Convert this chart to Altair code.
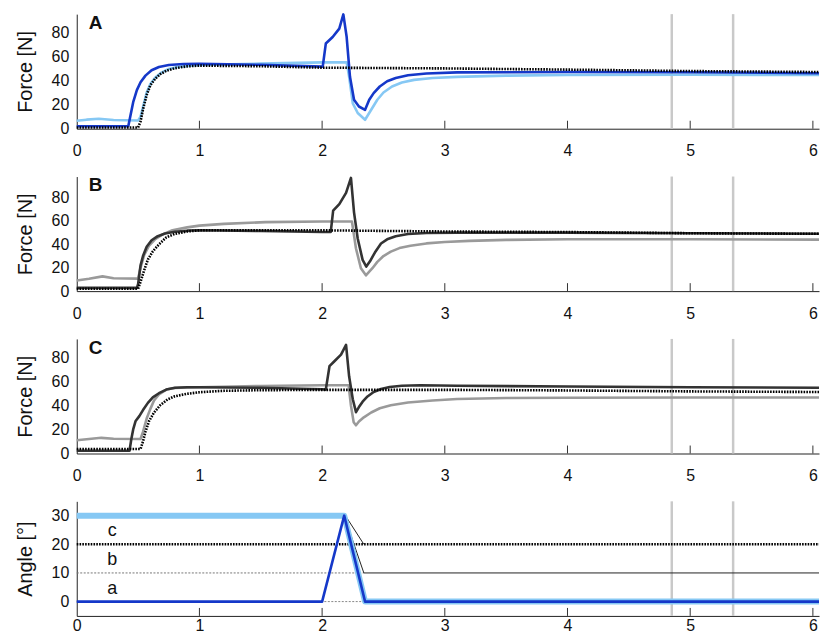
import altair as alt
import pandas as pd

# ---------------- shared axis values ----------------
x_labels = [0, 1, 2, 3, 4, 5, 6]
x_ticks = [1, 2, 3, 4, 5, 6]
x_domain = [0, 6.05]
marker_t = [4.85, 5.35]
force_ticks = [0, 20, 40, 60, 80]
angle_ticks = [0, 10, 20, 30]

# ---------------- panel A ----------------
A_light_t = [0, 0.08, 0.18, 0.3, 0.5, 0.52, 0.54, 0.57, 0.6, 0.64, 0.69, 0.75, 0.83, 0.95, 1.05,
             1.5, 2.0, 2.2, 2.22, 2.25, 2.29, 2.35, 2.4, 2.45, 2.5, 2.57, 2.65, 2.75, 2.9, 3.1,
             3.5, 4.0, 5.0, 6.05]
A_light_v = [6.6, 7.5, 8.3, 7.2, 6.8, 10, 18, 30, 37, 42.5, 46.5, 49.5, 51.3, 52.5, 53,
             54, 55, 55, 43, 21, 13, 7.4, 15.7, 24, 30, 35, 38.3, 40.5, 42, 43,
             44, 44.5, 44.8, 44.5]
A_dark_t = [0, 0.3, 0.42, 0.44, 0.46, 0.49, 0.52, 0.56, 0.61, 0.67, 0.75, 0.87, 1.0, 1.5, 2.0,
            2.005, 2.03, 2.086, 2.14, 2.173, 2.2, 2.227, 2.26, 2.3, 2.35, 2.384, 2.42, 2.47,
            2.53, 2.6, 2.7, 2.85, 3.1, 4.0, 5.0, 6.05]
A_dark_v = [2, 2, 2, 12, 22, 32, 38.5, 44, 48.5, 51.2, 52.8, 53.7, 53.8, 53, 51.5,
            51.5, 70.6, 76, 83, 94.8, 76, 43, 24, 18.4, 15.7, 24, 29.5, 35,
            39.3, 42, 44.3, 45.8, 46.7, 47, 46.8, 46]
A_dot_t = [0, 0.5, 0.52, 0.54, 0.57, 0.6, 0.64, 0.68, 0.73, 0.8, 0.9, 1.0, 1.5, 2.0, 3.0, 4.0,
           5.0, 6.05]
A_dot_v = [1, 1, 6, 16, 28, 36, 41.5, 45.2, 48, 50.2, 51.7, 52.3, 51.8, 50.6, 50, 49,
           47.8, 47]

# ---------------- panel B ----------------
B_gray_t = [0, 0.1, 0.21, 0.3, 0.5, 0.52, 0.55, 0.59, 0.64, 0.7, 0.78, 0.9, 1.0, 1.2, 1.54,
            2.0, 2.243, 2.276, 2.316, 2.357, 2.41, 2.45, 2.5, 2.56, 2.63, 2.72, 2.85, 3.0,
            3.2, 3.5, 4.0, 5.0, 6.05]
B_gray_v = [9, 10.5, 12.6, 11, 10.7, 20, 31, 39, 44.5, 48.5, 52, 54.5, 56, 57.5, 59,
            59.5, 59.5, 36.5, 19.6, 13.5, 19.6, 25, 30, 33.8, 36.8, 38.8, 40.8, 42,
            43, 43.8, 44.3, 44.3, 44]
B_dark_t = [0, 0.3, 0.49, 0.5, 0.52, 0.54, 0.57, 0.61, 0.66, 0.72, 0.8, 0.9, 1.0, 1.5, 2.0,
            2.07, 2.09, 2.14, 2.195, 2.235, 2.26, 2.29, 2.33, 2.36, 2.39, 2.43, 2.48, 2.53,
            2.6, 2.7, 2.85, 3.1, 4.0, 5.0, 6.05]
B_dark_v = [2.8, 2.8, 2.8, 6, 22, 30, 38, 43.5, 47, 49.2, 50.8, 51.7, 52, 51.5, 50.5,
            50.5, 68.8, 74.4, 84, 96.8, 67.4, 45, 26.7, 21, 25.5, 33, 40.7, 44.3,
            47, 48.8, 49.7, 50, 50, 49.5, 49]
B_dot_t = [0, 0.5, 0.52, 0.55, 0.58, 0.62, 0.67, 0.73, 0.8, 0.9, 1.0, 2.0, 3.0, 4.0, 5.0, 6.05]
B_dot_v = [2, 2, 8, 18, 27, 34, 40, 46, 49, 51, 52, 52, 51, 50.5, 49.5, 49]

# ---------------- panel C ----------------
C_gray_t = [0, 0.1, 0.2, 0.3, 0.52, 0.54, 0.57, 0.6, 0.63, 0.67, 0.73, 0.8, 0.9, 1.0, 1.5,
            2.0, 2.216, 2.235, 2.257, 2.276, 2.3, 2.34, 2.4, 2.47, 2.56, 2.7, 2.9, 3.1, 3.5,
            4.0, 5.0, 6.05]
C_gray_v = [11, 12, 13, 12.2, 12, 18, 29, 37, 44, 49, 53, 54.3, 54.8, 55, 56,
            56.6, 56.6, 39.7, 26, 23.4, 26.5, 30, 34, 37.5, 40, 42.3, 44, 45.2, 46,
            46.2, 46.5, 46.5]
C_dark_t = [0, 0.3, 0.43, 0.445, 0.46, 0.48, 0.51, 0.54, 0.58, 0.62, 0.67, 0.73, 0.8, 0.9,
            1.0, 1.5, 2.0, 2.03, 2.06, 2.1, 2.154, 2.195, 2.22, 2.25, 2.276, 2.3, 2.33,
            2.37, 2.42, 2.48, 2.55, 2.65, 2.8, 3.1, 4.0, 5.0, 6.05]
C_dark_v = [2.3, 2.3, 2.3, 12, 20, 27, 31, 36, 42, 46.5, 50, 53, 54.5, 55,
            55, 54.5, 53.3, 53, 72.4, 76.5, 82, 90, 64, 45, 34.3, 38.5, 43,
            47.3, 51, 53.5, 55.2, 56.2, 56.6, 56.2, 55.5, 55, 54.5]
C_dot_t = [0, 0.52, 0.54, 0.56, 0.59, 0.63, 0.68, 0.74, 0.8, 0.9, 1.0, 1.2, 1.5, 2.0, 3.0,
           4.0, 5.0, 6.05]
C_dot_v = [3.8, 3.8, 10, 18, 27, 34, 40, 44.8, 47.5, 49.5, 50.8, 52, 52.5, 52.8, 52.8,
           52.3, 51.5, 51]

# ---------------- panel D (angles) ----------------
D_light_t = [0, 2.18, 2.35, 6.05]
D_light_v = [30, 30, 0, 0]
D_dark_t = [0, 2.0, 2.18, 2.35, 6.05]
D_dark_v = [0, 0, 30, 0, 0]
D_refa_t = [0, 2.35]
D_refa_v = [0, 0]
D_refb_t = [0, 2.34]
D_refb_v = [10, 10]
D_refc_t = [0, 6.05]
D_refc_v = [20, 20]
D_trajb_t = [2.18, 2.34, 6.05]
D_trajb_v = [30, 10, 10]
D_trajc_t = [2.19, 2.34]
D_trajc_v = [30, 20]
ann_labels = ["a", "b", "c"]
ann_t = [0.29, 0.29, 0.29]
ann_v = [4.3, 14.5, 24.6]

# ---------------- styling ----------------
LIGHT_BLUE = "#86c8f4"
DARK_BLUE = "#1538c9"
GRAY = "#9a9a9a"
DARK = "#333333"
MARK_GRAY = "#c9c9c9"
W = 745
H = 115
FONT = "Liberation Sans"


def x_enc(label_pad):
    return alt.X("t:Q", scale=alt.Scale(domain=x_domain, nice=False, zero=False),
                 axis=alt.Axis(values=x_labels, ticks=False, tickSize=0, grid=False,
                               labelFontSize=16, labelPadding=label_pad, labelFlush=False,
                               labelColor="#111", domainColor="#222", domainWidth=1,
                               title=None, format="d"))


def y_enc(domain, values, title):
    return alt.Y("v:Q", scale=alt.Scale(domain=domain, nice=False, zero=False),
                 axis=alt.Axis(values=values, ticks=False, tickSize=0, grid=False,
                               labelFontSize=16, labelPadding=8, labelColor="#111",
                               domainColor="#222", domainWidth=1, title=title,
                               titleFontSize=20, titleFontWeight="normal",
                               titleColor="#111", titlePadding=16, format="d"))


def series(t, v, xe, ye, color, width, dash=None):
    df = pd.DataFrame({"t": t, "v": v})
    kw = dict(color=color, strokeWidth=width, strokeJoin="round")
    if dash is not None:
        kw["strokeDash"] = dash
    return alt.Chart(df).mark_line(**kw).encode(x=xe, y=ye)


def common_layers(xe):
    vl = alt.Chart(pd.DataFrame({"t": marker_t})).mark_rule(
        color=MARK_GRAY, strokeWidth=2.5).encode(x=xe)
    tk = alt.Chart(pd.DataFrame({"t": x_ticks})).mark_rule(
        color="#333", strokeWidth=1).encode(x=xe, y=alt.value(H), y2=alt.value(H - 8))
    return vl, tk


def force_panel(letter, light, dark, dot, light_color, dark_color, ydom):
    xe = x_enc(14)
    ye = y_enc(ydom, force_ticks, "Force [N]")
    vl, tk = common_layers(xe)
    letter_df = pd.DataFrame({"label": [letter]})
    txt = alt.Chart(letter_df).mark_text(
        fontSize=19, fontWeight="bold", align="left", baseline="top", color="#111"
    ).encode(text="label:N", x=alt.value(12), y=alt.value(0))
    layers = [
        vl,
        series(light[0], light[1], xe, ye, light_color, 2.6),
        series(dark[0], dark[1], xe, ye, dark_color, 2.6),
        series(dot[0], dot[1], xe, ye, "#000000", 2.6, [1.6, 1.2]),
        tk,
        txt,
    ]
    return alt.layer(*layers).properties(width=W, height=H)


pA = force_panel("A", (A_light_t, A_light_v), (A_dark_t, A_dark_v), (A_dot_t, A_dot_v),
                 LIGHT_BLUE, DARK_BLUE, [0, 95])
pB = force_panel("B", (B_gray_t, B_gray_v), (B_dark_t, B_dark_v), (B_dot_t, B_dot_v),
                 GRAY, DARK, [0, 98])
pC = force_panel("C", (C_gray_t, C_gray_v), (C_dark_t, C_dark_v), (C_dot_t, C_dot_v),
                 GRAY, DARK, [0, 95])

# panel D
xeD = x_enc(2)
yeD = y_enc([-5, 35], angle_ticks, "Angle [°]")
vlD, tkD = common_layers(xeD)
ann = alt.Chart(pd.DataFrame({"t": ann_t, "v": ann_v, "label": ann_labels})).mark_text(
    fontSize=18, align="center", baseline="middle", color="#111"
).encode(x=xeD, y=yeD, text="label:N")
pD = alt.layer(
    vlD,
    series(D_refa_t, D_refa_v, xeD, yeD, "#888888", 1, [2, 1.5]),
    series(D_refb_t, D_refb_v, xeD, yeD, "#777777", 1, [2, 1.5]),
    series(D_trajb_t, D_trajb_v, xeD, yeD, "#222222", 1),
    series(D_trajc_t, D_trajc_v, xeD, yeD, "#222222", 1),
    series(D_refc_t, D_refc_v, xeD, yeD, "#000000", 2.4, [1.6, 1.2]),
    series(D_light_t, D_light_v, xeD, yeD, LIGHT_BLUE, 6),
    series(D_dark_t, D_dark_v, xeD, yeD, DARK_BLUE, 2.6),
    tkD,
    ann,
).properties(width=W, height=H)

chart = alt.vconcat(pA, pB, pC, pD, spacing=16).properties(
    padding={"left": 7, "top": 3, "right": 0, "bottom": 0}
).configure(font=FONT).configure_view(stroke=None)

chart.save("out.html", embed_options={"renderer": "svg", "actions": False})
